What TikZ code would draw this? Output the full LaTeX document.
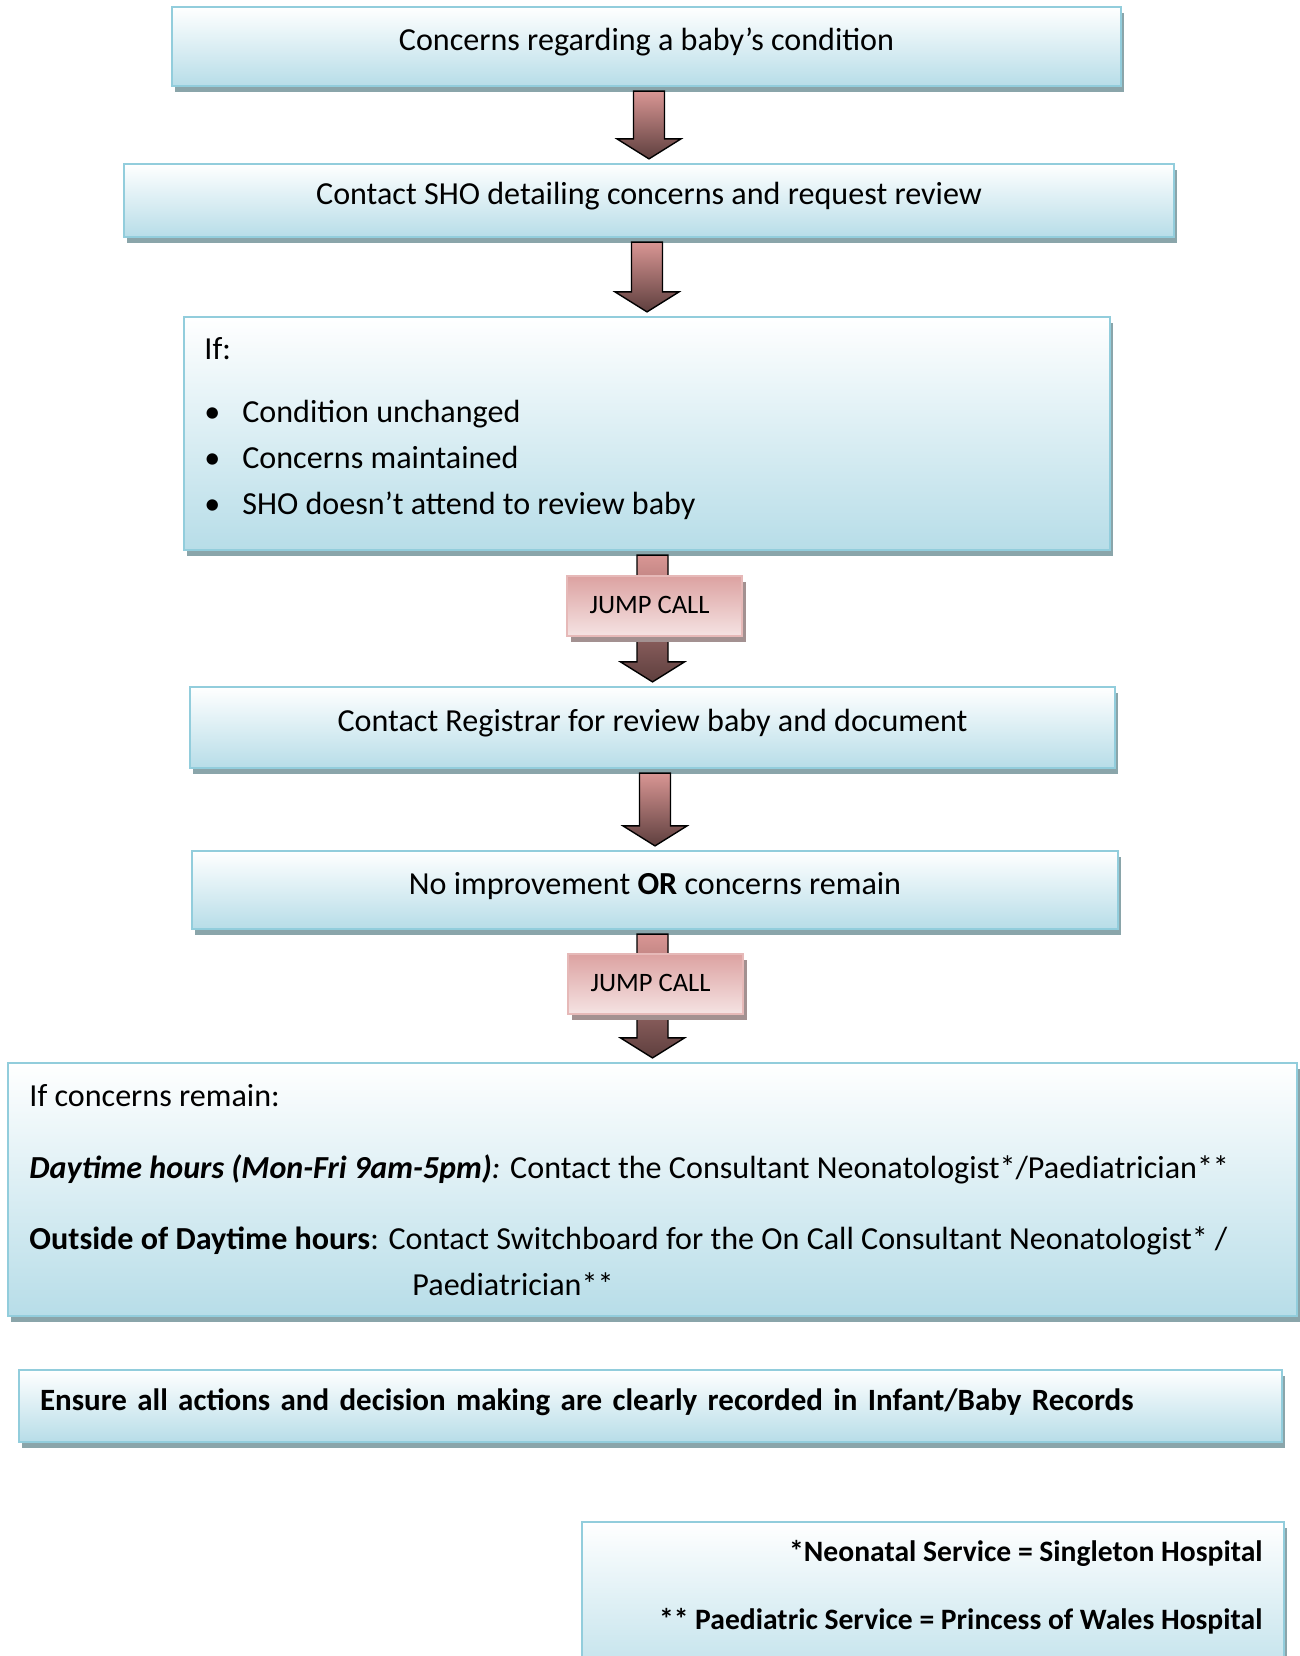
\documentclass[tikz,border=0pt]{standalone}
\usepackage{fontspec}
\setmainfont{Carlito}
\usetikzlibrary{calc, shadows}

\definecolor{boxBlue}{HTML}{B7DDE8}
\definecolor{boxLine}{HTML}{92CDDC}
\definecolor{boxShadow}{HTML}{8AA5AA}
\definecolor{arrowTop}{HTML}{D99694}
\definecolor{arrowBot}{HTML}{5E3F3E}
\definecolor{jumpTop}{HTML}{DCA2A1}
\definecolor{jumpBot}{HTML}{F5E3E3}
\definecolor{jumpLine}{HTML}{E6B9B8}
\definecolor{jumpShadow}{HTML}{A39191}

\newcommand{\boxfont}{\fontsize{11.6}{16.6}\selectfont}
\def\px{0.36135pt}

\begin{document}
\begin{tikzpicture}[
        x=\px, y=-\px,
        font=\boxfont,
        flowbox/.style 2 args={draw=boxLine, line width=0.8pt,
            top color=white, bottom color=boxBlue,
            minimum width=#1*\px, minimum height=#2*\px, inner sep=0pt,
            drop shadow={shadow xshift=1.1pt, shadow yshift=-2.2pt, fill=boxShadow, opacity=1}},
        oneline/.style={text height=8.7pt, text depth=5.8pt},
        boxtext/.style={inner sep=0pt, align=left},
        jumpbox/.style={draw=jumpLine, line width=0.8pt,
            top color=jumpTop, bottom color=jumpBot,
            minimum width=63.2pt, minimum height=21.7pt, inner sep=0pt,
            text height=9pt, text depth=3.5pt, font=\fontsize{9.6}{12}\selectfont,
            drop shadow={shadow xshift=1.4pt, shadow yshift=-2.2pt, fill=jumpShadow, opacity=1}},
        blockarrow/.style={draw=black, line width=0.5pt, top color=arrowTop, bottom color=arrowBot}
    ]

        % === DEFINITIONS ===
        % block arrow from the bottom of #1 down to the top of #2
        \def\flowarrow#1#2{%
            \shade[blockarrow]
                ($(#2.north |- #1.south)+(-15.5,4)$) -- ($(#2.north)+(-15.5,-24)$)
                -- ($(#2.north)+(-32,-24)$) -- ($(#2.north)+(0,-4)$)
                -- ($(#2.north)+(32,-24)$) -- ($(#2.north)+(15.5,-24)$)
                -- ($(#2.north |- #1.south)+(15.5,4)$) -- cycle;}

        \useasboundingbox (0,0) rectangle (1300,1656);
        \clip (0,0) rectangle (1300,1656);

        % === 1. FLOW BOXES ===
        \node[flowbox={949}{79}, oneline] (concern) at (646.5,46.5) {Concerns regarding a baby’s condition};
        \node[flowbox={1050}{73}, oneline] (sho) at (649,200.5) {Contact SHO detailing concerns and request review};
        \node[flowbox={926}{233}] (ifbox) at (647,433.5) {};
        \node[flowbox={925}{81}, oneline] (registrar) at (652.5,727.5) {Contact Registrar for review baby and document};
        \node[flowbox={926}{78}, oneline] (noimprove) at (655,890) {No improvement \textbf{OR} concerns remain};
        \node[flowbox={1289}{253}] (consultant) at (652.5,1189.5) {};
        \node[flowbox={1263}{72}, oneline, align=left, text width=441.2pt, font=\fontsize{11.2}{16.6}\selectfont\bfseries] (records) at (650.5,1406)
            {Ensure all actions and decision making are clearly recorded in Infant/Baby Records};
        \node[flowbox={702}{178}] (service) at (933,1611) {};

        % === 2. BOX TEXTS ===
        \node[boxtext, anchor=north west] (iftext) at ($(ifbox.north west)+(21,21)$)
            {If:\\[6.1pt]
             \makebox[13.7pt][l]{\textbullet}Condition unchanged\\
             \makebox[13.7pt][l]{\textbullet}Concerns maintained\\
             \makebox[13.7pt][l]{\textbullet}SHO doesn’t attend to review baby};
        \node[boxtext, anchor=north west] (consulttext) at ($(consultant.north west)+(22,22)$)
            {If concerns remain:\\[9.4pt]
             \textbf{\textit{Daytime hours (Mon-Fri 9am-5pm)}}\textit{:} Contact the Consultant Neonatologist*/Paediatrician**\\[9pt]
             \textbf{Outside of Daytime hours}: Contact Switchboard for the On Call Consultant Neonatologist* /\\
             \hspace*{138.4pt}Paediatrician**};
        \node[boxtext, align=right, anchor=north east, font=\fontsize{10.7}{16.6}\selectfont\bfseries] (servicetext) at ($(service.north east)+(-22,19)$)
            {*Neonatal Service = Singleton Hospital\\[8pt]
             ** Paediatric Service = Princess of Wales Hospital};

        % === 3. ARROWS ===
        \flowarrow{concern}{sho}
        \flowarrow{sho}{ifbox}
        \flowarrow{ifbox}{registrar}
        \flowarrow{registrar}{noimprove}
        \flowarrow{noimprove}{consultant}

        % === 4. JUMP CALLS ===
        \node[jumpbox] (jump1) at (654.5,606) {JUMP CALL\hspace*{3.6pt}};
        \node[jumpbox] (jump2) at (655.5,984) {JUMP CALL\hspace*{3.6pt}};

    \end{tikzpicture}
\end{document}
